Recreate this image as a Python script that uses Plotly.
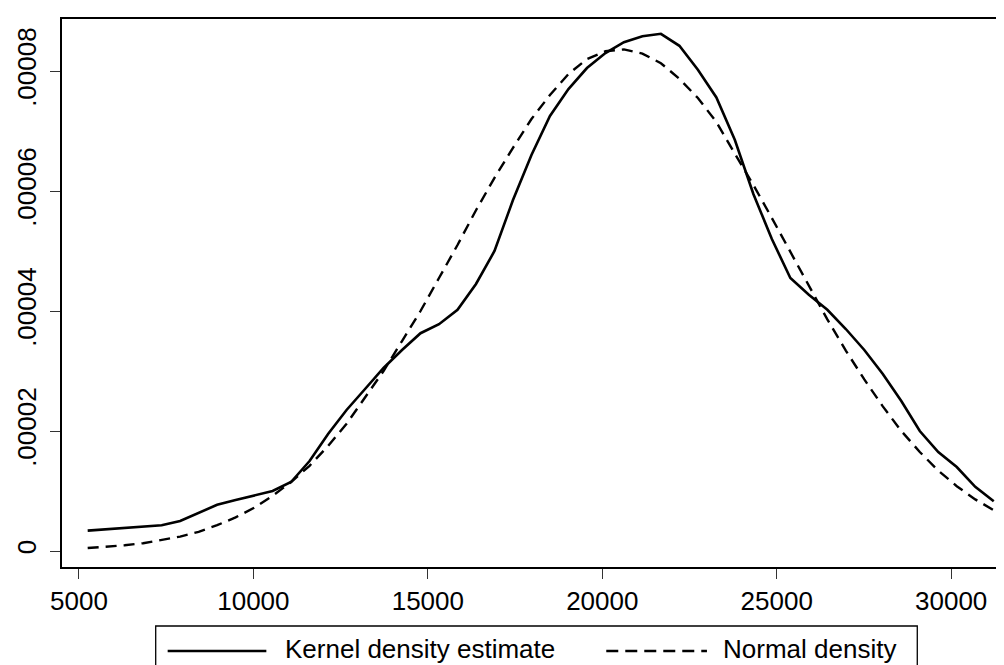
import plotly.graph_objects as go

# Evaluation points (income)
x_vals = [5250, 5780, 6310, 6840, 7370, 7900, 8430, 8960, 9490, 10020,
          10550, 11080, 11610, 12140, 12670, 13200, 13730, 14260, 14790, 15320,
          15850, 16380, 16910, 17440, 17970, 18500, 19030, 19560, 20090, 20620,
          21150, 21680, 22210, 22740, 23270, 23800, 24330, 24860, 25390, 25920,
          26450, 26980, 27510, 28040, 28570, 29100, 29630, 30160, 30690, 31220]

kernel_density = [3.4e-6, 3.6e-6, 3.9e-6, 4.0e-6, 4.3e-6, 5.0e-6, 6.3e-6, 7.7e-6, 8.5e-6, 9.2e-6,
                  1.0e-5, 1.15e-5, 1.5e-5, 1.95e-5, 2.35e-5, 2.7e-5, 3.05e-5, 3.35e-5, 3.63e-5, 3.78e-5,
                  4.02e-5, 4.45e-5, 5.0e-5, 5.85e-5, 6.6e-5, 7.25e-5, 7.7e-5, 8.05e-5, 8.3e-5, 8.48e-5,
                  8.58e-5, 8.62e-5, 8.42e-5, 8.02e-5, 7.56e-5, 6.85e-5, 5.95e-5, 5.2e-5, 4.55e-5, 4.27e-5,
                  4.02e-5, 3.7e-5, 3.35e-5, 2.95e-5, 2.5e-5, 2.0e-5, 1.65e-5, 1.4e-5, 1.07e-5, 8.3e-6]

normal_density = [0.5e-6, 0.7e-6, 0.95e-6, 1.3e-6, 1.8e-6, 2.4e-6, 3.2e-6, 4.3e-6, 5.6e-6, 7.2e-6,
                  9.2e-6, 1.15e-5, 1.42e-5, 1.75e-5, 2.12e-5, 2.55e-5, 3.0e-5, 3.5e-5, 4.0e-5, 4.55e-5,
                  5.1e-5, 5.68e-5, 6.22e-5, 6.72e-5, 7.2e-5, 7.6e-5, 7.95e-5, 8.2e-5, 8.33e-5, 8.36e-5,
                  8.29e-5, 8.13e-5, 7.87e-5, 7.55e-5, 7.15e-5, 6.62e-5, 6.1e-5, 5.55e-5, 4.98e-5, 4.42e-5,
                  3.86e-5, 3.34e-5, 2.86e-5, 2.41e-5, 2.0e-5, 1.65e-5, 1.34e-5, 1.08e-5, 8.6e-6, 6.8e-6]

x_ticks = [5000, 10000, 15000, 20000, 25000, 30000]
x_tick_labels = ["5000", "10000", "15000", "20000", "25000", "30000"]
y_ticks = [0, 0.00002, 0.00004, 0.00006, 0.00008]
y_tick_labels = ["0", ".00002", ".00004", ".00006", ".00008"]

series_names = ["Kernel density estimate", "Normal density"]

FONT = "Liberation Sans, Arial, Helvetica, sans-serif"
W, H = 1004, 665
L, R, T, B = 53, 4, 11, 106
pw, ph = W - L - R, H - T - B

def px_x(p):
    return (p - L) / pw

def px_y(p):
    return (H - B - p) / ph

fig = go.Figure()
fig.add_trace(go.Scatter(x=x_vals, y=kernel_density, mode="lines", name=series_names[0],
                         line=dict(color="black", width=2.6)))
fig.add_trace(go.Scatter(x=x_vals, y=normal_density, mode="lines", name=series_names[1],
                         line=dict(color="black", width=2.4, dash="11px,7px")))

axis_common = dict(showgrid=False, zeroline=False, showline=True, mirror=True,
                   linecolor="black", linewidth=1.6, ticks="outside", ticklen=10,
                   tickwidth=1.2, tickcolor="#333333",
                   tickfont=dict(family=FONT, size=26, color="black"))

fig.update_xaxes(range=[4514, 31571], tickvals=x_ticks, ticktext=x_tick_labels, **axis_common)
fig.update_yaxes(range=[-2.667e-6, 8.867e-5], tickvals=y_ticks, ticktext=y_tick_labels,
                 tickangle=-90, ticklabelstandoff=4, **axis_common)

# Legend box drawn manually
shapes = [
    dict(type="rect", xref="paper", yref="paper",
         x0=px_x(147), x1=px_x(911), y0=px_y(662), y1=px_y(618),
         line=dict(color="black", width=1.3), fillcolor="white", layer="above"),
    dict(type="line", xref="paper", yref="paper",
         x0=px_x(159), x1=px_x(258), y0=px_y(643), y1=px_y(643),
         line=dict(color="black", width=2.6)),
    dict(type="line", xref="paper", yref="paper",
         x0=px_x(599), x1=px_x(700), y0=px_y(643), y1=px_y(643),
         line=dict(color="black", width=2.4, dash="12px,7px")),
]
annotations = [
    dict(text=series_names[0], xref="paper", yref="paper", x=px_x(275), y=px_y(641),
         xanchor="left", yanchor="middle", showarrow=False,
         font=dict(family=FONT, size=26, color="black")),
    dict(text=series_names[1], xref="paper", yref="paper", x=px_x(714), y=px_y(641),
         xanchor="left", yanchor="middle", showarrow=False,
         font=dict(family=FONT, size=26, color="black")),
]

fig.update_layout(width=W, height=H, margin=dict(l=L, r=R, t=T, b=B, pad=0),
                  paper_bgcolor="white", plot_bgcolor="white", showlegend=False,
                  shapes=shapes, annotations=annotations,
                  font=dict(family=FONT, size=26, color="black"))

fig.write_html("out.html")
